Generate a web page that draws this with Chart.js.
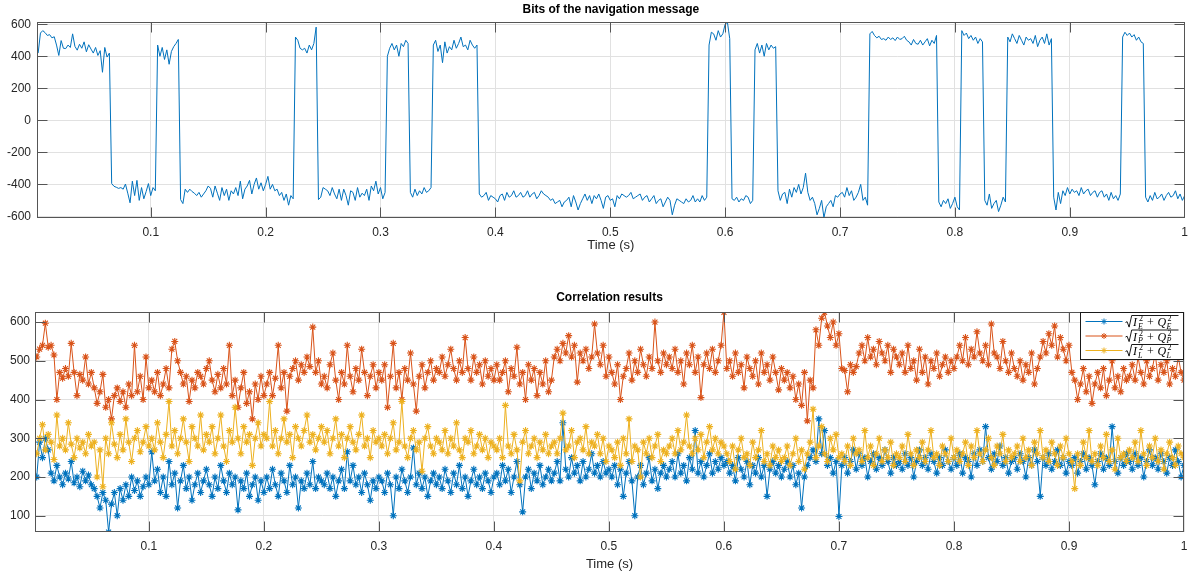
<!DOCTYPE html>
<html>
<head>
<meta charset="utf-8">
<title>Navigation bits and correlator outputs</title>
<script src="https://cdn.jsdelivr.net/npm/chart.js@4.4.1/dist/chart.umd.min.js"></script>
<style>
  html, body { margin: 0; padding: 0; background: #ffffff; }
  #wrap { position: relative; width: 1195px; height: 579px; overflow: hidden; }
  canvas { position: absolute; left: 0; }
  #navCanvas { top: 0; }
  #corrCanvas { top: 290px; }
</style>
</head>
<body>
<div id="wrap">
  <canvas id="navCanvas" width="1195" height="290"></canvas>
  <canvas id="corrCanvas" width="1195" height="289"></canvas>
</div>
<script>
// ---- titles and tick labels ----
const navTitle = 'Bits of the navigation message';
const corrTitle = 'Correlation results';
const xTitle = 'Time (s)';
const xTicks = [0.1, 0.2, 0.3, 0.4, 0.5, 0.6, 0.7, 0.8, 0.9, 1];
const xTickLabels = ['0.1', '0.2', '0.3', '0.4', '0.5', '0.6', '0.7', '0.8', '0.9', '1'];
const navYTicks = [-600, -400, -200, 0, 200, 400, 600];
const navYTickLabels = ['-600', '-400', '-200', '0', '200', '400', '600'];
const corrYTicks = [100, 200, 300, 400, 500, 600];
const corrYTickLabels = ['100', '200', '300', '400', '500', '600'];
const legendLetters = ['E', 'P', 'L'];

// ---- navigation message samples: first sample at 2 ms, one every 2 ms ----
const NAV_T0 = 0.002;
const NAV_DT = 0.002;
const navBits = [
  420, 545,
  560, 548, 530, 535, 515, 522, 470, 405, 498, 450,
  448, 470, 455, 540, 462, 438, 475, 450, 490, 428,
  472, 445, 420, 455, 405, 435, 300, 455, 395, 420,
  -395, -412, -418, -425, -420, -430, -398, -455, -515, -380,
  -470, -375, -500, -420, -490, -445, -395, -470, -420, -440,
  470, 400, 455, 380, 440, 350, 430, 460, 480, 505,
  -495, -520, -430, -450, -430, -445, -455, -470, -450, -480,
  -460, -440, -410, -425, -480, -410, -455, -500, -420, -470,
  -430, -500, -440, -460, -420, -470, -380, -490, -430, -410,
  -375, -460, -400, -360, -430, -390, -440, -400, -350, -430,
  -400, -440, -430, -470, -450, -500, -460, -530, -470, -490,
  520, 500, 450, 440, 450, 420, 470, 440, 480, 582,
  -495, -480, -420, -430, -440, -470, -420, -460, -490, -430,
  -500, -430, -470, -530, -440, -450, -500, -420, -480, -455,
  -470, -430, -500, -410, -440, -380, -460, -420, -490, -450,
  400, 450, 480, 440, 470, 400, 480, 460, 500, 480,
  -450, -480, -430, -470, -440, -460, -420, -450, -440, -420,
  470, 500, 430, 470, 360, 490, 420, 460, 440, 500,
  450, 480, 520, 460, 470, 440, 500, 470, 450, 470,
  -460, -480, -470, -450, -500, -470, -480, -490, -510, -470,
  -460, -500, -450, -480, -470, -440, -480, -470, -450, -480,
  -470, -440, -480, -460, -450, -490, -470, -440, -460, -470,
  -480, -500, -490, -520, -510, -500, -540, -510, -500, -480,
  -540, -470, -510, -560, -520, -490, -460, -500, -470, -520,
  -470, -490, -460, -500, -550, -480, -470, -500, -490, -540,
  -470, -490, -460, -470, -480, -470, -450, -490, -480, -470,
  -460, -500, -480, -470, -510, -490, -470, -520, -500, -490,
  -540, -510, -480, -500, -590, -530, -490, -500, -510, -520,
  -490, -510, -500, -470, -510, -490, -510, -470, -500, -480,
  470, 550, 540, 500, 560, 520, 540, 600, 612, 510,
  -490, -500, -480, -510, -490, -500, -470, -480, -520, -500,
  440, 480, 420, 470, 400, 480, 440, 470, 450, 460,
  -440, -500, -460, -450, -520, -430, -480, -420, -450, -400,
  -460, -420, -330, -450, -500, -480, -520, -590, -550, -500,
  -608, -540, -520, -500, -540, -470, -480, -460, -450, -480,
  -420, -470, -440, -500, -480, -450, -400, -500, -480, -530,
  540, 555, 530, 515, 525, 505, 510, 500, 520, 505,
  515, 498, 520, 505, 510, 525, 500, 490, 470, 505,
  480, 475, 500, 470, 490, 510, 465, 500, 480, 530,
  -510, -540, -500, -520, -490, -550, -520, -480, -540, -560,
  560, 530, 545, 510, 530, 500, 520, 480, 510, 490,
  -500, -530, -460, -550, -520, -500, -570, -530, -480, -510,
  520, 490, 540, 510, 480, 530, 500, 470, 520, 500,
  510, 480, 530, 460, 500, 520, 480, 540, 470, 510,
  -480, -560, -450, -520, -440, -470, -420, -460, -430, -450,
  -440, -470, -420, -460, -440, -430, -470, -450, -440, -480,
  -450, -440, -480, -460, -500, -450, -490, -470, -500, -460,
  520, 550, 530, 545, 520, 535, 500, 520, 490, 480,
  -480, -510, -470, -500, -450, -490, -480, -460, -500, -470,
  -450, -480, -470, -440, -490, -460, -500, -470
];

// ---- correlator magnitudes: first sample at 2.5 ms, one every 2.5 ms ----
const CORR_T0 = 0.0025;
const CORR_DT = 0.0025;
const corrEarly = [
  200, 290, 250, 300, 270, 210, 190, 230, 200, 180, 210, 195, 240, 185, 200, 175, 215, 190, 205, 180,
  170, 150, 120, 160, 140, 58, 130, 160, 100, 170, 140, 180, 150, 200, 165, 190, 150, 175, 200, 180,
  265, 190, 220, 160, 200, 150, 240, 180, 210, 120, 190, 230, 170, 200, 140, 180, 210, 160, 190, 220,
  180, 150, 200, 170, 230, 190, 160, 210, 180, 200, 115, 190, 170, 210, 150, 180, 200, 140, 190, 160,
  200, 170, 220, 180, 150, 210, 190, 160, 230, 180, 200, 120, 190, 170, 210, 180, 240, 170, 200, 190,
  180, 210, 170, 200, 150, 190, 220, 170, 265, 190, 230, 180, 200, 160, 210, 180, 140, 190, 170, 200,
  190, 160, 210, 180, 100, 200, 170, 220, 190, 160, 200, 275, 180, 210, 170, 200, 150, 190, 210, 180,
  200, 170, 220, 190, 160, 210, 180, 230, 170, 200, 150, 190, 220, 180, 200, 170, 210, 190, 160, 200,
  210, 180, 230, 190, 220, 160, 200, 240, 180, 110, 200, 220, 170, 210, 190, 230, 180, 200, 220, 190,
  210, 240, 190, 340, 220, 200, 250, 210, 230, 190, 240, 200, 220, 260, 210, 230, 200, 240, 210, 220,
  200, 230, 180, 220, 150, 210, 240, 190, 100, 200, 230, 180, 210, 250, 190, 220, 170, 210, 230, 200,
  220, 240, 200, 260, 210, 230, 190, 250, 220, 320, 210, 240, 200, 230, 260, 210, 240, 220, 250, 230,
  240, 210, 230, 190, 250, 220, 200, 240, 180, 230, 210, 250, 200, 230, 150, 220, 240, 210, 230, 200,
  220, 240, 200, 230, 180, 210, 120, 200, 230, 250, 270, 240, 350, 260, 320, 230, 250, 210, 240, 98,
  230, 250, 210, 240, 270, 220, 260, 230, 250, 200, 240, 260, 220, 250, 230, 270, 240, 210, 250, 230,
  240, 220, 260, 230, 250, 200, 240, 270, 230, 250, 220, 260, 240, 210, 250, 230, 270, 240, 220, 250,
  230, 260, 210, 250, 240, 200, 260, 230, 270, 240, 330, 250, 220, 260, 240, 280, 230, 250, 210, 240,
  250, 220, 260, 240, 200, 250, 230, 270, 240, 150, 250, 230, 260, 220, 240, 270, 230, 250, 210, 240,
  230, 250, 210, 240, 260, 220, 250, 230, 180, 240, 260, 220, 250, 230, 330, 240, 210, 250, 230, 260,
  240, 220, 260, 230, 250, 200, 240, 270, 230, 250, 220, 260, 240, 210, 250, 230, 270, 240, 200, 230
];
const corrPrompt = [
  510, 530, 540, 597, 535, 540, 515, 400, 470, 455, 480, 460, 545, 470, 410, 465, 450, 510, 440, 470,
  430, 390, 420, 465, 380, 400, 350, 410, 430, 395, 420, 380, 440, 410, 540, 420, 460, 400, 510, 430,
  450, 420, 470, 410, 440, 480, 430, 530, 550, 500, 470, 440, 460, 395, 450, 430, 470, 460, 440, 480,
  500, 450, 420, 465, 430, 480, 440, 540, 410, 450, 380, 430, 470, 390, 420, 350, 440, 400, 460, 410,
  440, 470, 410, 455, 540, 430, 470, 370, 460, 480, 500, 450, 490, 470, 510, 485, 587, 470, 500, 440,
  460, 430, 490, 520, 450, 400, 470, 440, 540, 460, 420, 480, 450, 530, 470, 410, 460, 490, 430, 470,
  450, 490, 380, 460, 545, 430, 470, 400, 480, 450, 520, 440, 370, 460, 490, 430, 470, 500, 450, 480,
  470, 510, 460, 490, 530, 480, 450, 500, 470, 560, 480, 450, 510, 470, 490, 440, 500, 460, 480, 450,
  490, 450, 470, 500, 420, 480, 460, 535, 440, 470, 400, 490, 450, 480, 410, 470, 440, 500, 420, 450,
  510, 530, 500, 545, 520, 565, 510, 540, 445, 520, 500, 530, 480, 510, 595, 520, 490, 540, 460, 510,
  470, 440, 490, 400, 460, 480, 520, 450, 500, 470, 530, 490, 460, 510, 480, 600, 500, 470, 520, 490,
  510, 480, 530, 470, 500, 440, 520, 490, 540, 470, 510, 405, 490, 520, 480, 530, 470, 500, 540, 625,
  480, 500, 460, 520, 470, 490, 430, 510, 480, 460, 500, 440, 520, 470, 490, 450, 510, 470, 425, 480,
  450, 470, 430, 460, 400, 440, 385, 470, 345, 450, 430, 580, 540, 610, 625, 590, 560, 600, 540, 570,
  480, 475, 420, 490, 470, 485, 520, 540, 500, 560, 510, 530, 490, 550, 520, 500, 540, 470, 530, 510,
  490, 520, 470, 540, 480, 500, 450, 530, 470, 510, 440, 500, 480, 520, 460, 490, 510, 470, 500, 480,
  510, 540, 500, 560, 490, 530, 510, 575, 520, 500, 540, 490, 595, 520, 510, 480, 550, 500, 470, 520,
  480, 460, 500, 450, 490, 470, 520, 440, 480, 510, 550, 520, 570, 540, 590, 510, 560, 530, 500, 540,
  470, 450, 400, 440, 480, 420, 460, 390, 440, 470, 430, 480, 410, 450, 500, 430, 460, 420, 480, 450,
  460, 490, 450, 510, 470, 440, 500, 460, 480, 520, 450, 490, 470, 500, 440, 480, 460, 510, 470, 450
];
const corrLate = [
  260, 300, 335, 270, 310, 290, 245, 360, 280, 300, 270, 340, 285, 250, 300, 275, 290, 260, 310, 280,
  290, 200, 270, 175, 300, 260, 340, 285, 250, 310, 270, 350, 290, 240, 300, 320, 265, 290, 330, 280,
  300, 270, 340, 290, 250, 310, 395, 280, 320, 260, 300, 350, 290, 240, 330, 300, 280, 360, 270, 310,
  290, 330, 260, 300, 360, 280, 240, 320, 290, 380, 300, 260, 330, 290, 310, 230, 300, 340, 280, 310,
  300, 395, 280, 320, 260, 300, 350, 290, 310, 250, 330, 300, 280, 320, 360, 290, 310, 270, 300, 330,
  290, 320, 260, 300, 350, 280, 310, 250, 300, 330, 290, 270, 310, 360, 280, 300, 250, 320, 290, 300,
  280, 310, 260, 300, 340, 270, 290, 395, 280, 250, 300, 320, 270, 290, 215, 300, 330, 280, 260, 300,
  290, 270, 320, 260, 300, 280, 340, 270, 250, 300, 290, 320, 260, 280, 310, 270, 300, 250, 290, 280,
  270, 300, 250, 385, 280, 260, 310, 270, 190, 290, 320, 260, 280, 300, 250, 290, 270, 310, 260, 280,
  290, 260, 300, 365, 270, 280, 320, 250, 290, 300, 270, 330, 260, 290, 280, 310, 260, 300, 240, 280,
  270, 250, 290, 230, 300, 260, 350, 240, 280, 270, 200, 290, 260, 300, 250, 280, 310, 240, 270, 260,
  280, 300, 260, 320, 270, 290, 360, 280, 260, 300, 270, 310, 250, 290, 330, 270, 300, 260, 290, 280,
  260, 240, 280, 220, 270, 300, 250, 260, 230, 290, 250, 270, 320, 240, 260, 230, 280, 250, 270, 240,
  250, 280, 230, 260, 300, 240, 270, 220, 260, 290, 375, 250, 280, 330, 260, 240, 300, 270, 310, 250,
  260, 240, 280, 230, 300, 260, 270, 240, 320, 250, 280, 230, 260, 300, 240, 270, 250, 290, 230, 260,
  250, 280, 240, 310, 260, 230, 270, 250, 290, 240, 270, 320, 250, 260, 230, 280, 260, 240, 300, 250,
  270, 240, 260, 290, 230, 280, 250, 320, 260, 240, 270, 300, 250, 230, 280, 260, 310, 240, 270, 250,
  260, 280, 240, 300, 250, 270, 230, 290, 260, 320, 250, 270, 240, 290, 260, 230, 280, 250, 300, 260,
  240, 170, 260, 230, 290, 250, 320, 240, 260, 230, 280, 250, 310, 240, 270, 220, 300, 250, 260, 240,
  270, 250, 290, 240, 320, 260, 230, 280, 250, 300, 240, 270, 220, 260, 290, 250, 230, 280, 260, 250
];

// ---- styling ----
const BLUE = '#0072BD', ORANGE = '#D95319', YELLOW = '#EDB120';
const SANS = '"Liberation Sans", Arial, Helvetica, sans-serif';
const SERIF = '"Liberation Serif", "Times New Roman", serif';
const TICK_COLOR = '#262626';
const GRID_COLOR = '#e1e1e1';
const BOX_COLOR = '#555555';

function toPoints(values, t0, dt) {
  return values.map((v, i) => ({ x: +(t0 + i * dt).toFixed(4), y: v }));
}

// Axes box with inward tick marks on all four sides, plus a centered title.
const boxedAxes = {
  id: 'boxedAxes',
  afterDatasetsDraw(chart, args, opts) {
    const { ctx, chartArea: a, scales } = chart;
    const L = Math.round(a.left) + 0.5, R = Math.round(a.right) - 0.5;
    const T = Math.round(a.top) + 0.5, B = Math.round(a.bottom) - 0.5;
    const len = 10;
    ctx.save();
    ctx.strokeStyle = BOX_COLOR;
    ctx.lineWidth = 1;
    ctx.beginPath();
    scales.x.ticks.forEach(t => {
      const px = Math.round(scales.x.getPixelForValue(t.value)) + 0.5;
      if (px > L + 1 && px < R - 1) {
        ctx.moveTo(px, B); ctx.lineTo(px, B - len);
        ctx.moveTo(px, T); ctx.lineTo(px, T + len);
      }
    });
    scales.y.ticks.forEach(t => {
      const py = Math.round(scales.y.getPixelForValue(t.value)) + 0.5;
      if (py > T + 1 && py < B - 1) {
        ctx.moveTo(L, py); ctx.lineTo(L + len, py);
        ctx.moveTo(R, py); ctx.lineTo(R - len, py);
      }
    });
    ctx.stroke();
    ctx.strokeRect(L, T, R - L, B - T);
    ctx.restore();
  },
  afterDraw(chart, args, opts) {
    const { ctx, chartArea: a } = chart;
    ctx.save();
    ctx.fillStyle = '#000000';
    ctx.font = 'bold 12px ' + SANS;
    ctx.textAlign = 'center';
    ctx.textBaseline = 'middle';
    ctx.fillText(opts.text, (a.left + a.right) / 2, opts.y);
    ctx.restore();
  }
};

// Legend with typeset magnitude expressions sqrt(I_x^2 + Q_x^2).
const mathLegend = {
  id: 'mathLegend',
  afterDraw(chart, args, opts) {
    const { ctx, chartArea: a } = chart;
    const right = Math.round(a.right) - 0.5;
    const left = right - 103;
    const top = Math.round(a.top) + 0.5;
    const bottom = top + 47;
    ctx.save();
    ctx.fillStyle = '#ffffff';
    ctx.fillRect(left, top, right - left, bottom - top);
    ctx.strokeStyle = '#1a1a1a';
    ctx.lineWidth = 1;
    ctx.strokeRect(left, top, right - left, bottom - top);
    chart.data.datasets.forEach((ds, i) => {
      const cy = top + 9 + i * 14.5;
      // sample line with marker
      ctx.strokeStyle = ds.borderColor;
      ctx.lineWidth = 1;
      ctx.beginPath();
      ctx.moveTo(left + 5, cy); ctx.lineTo(left + 42, cy);
      ctx.stroke();
      Chart.helpers.drawPoint(ctx, { pointStyle: 'star', radius: 3, borderWidth: 1 }, left + 23.5, cy);
      // expression
      const x0 = left + 45;
      ctx.strokeStyle = '#000000';
      ctx.fillStyle = '#000000';
      ctx.lineWidth = 0.9;
      ctx.beginPath();
      ctx.moveTo(x0, cy + 1);
      ctx.lineTo(x0 + 1.6, cy + 0.2);
      ctx.lineTo(x0 + 3.6, cy + 5.6);
      ctx.lineTo(x0 + 6.2, cy - 6);
      ctx.lineTo(x0 + 53, cy - 6);
      ctx.stroke();
      ctx.textBaseline = 'alphabetic';
      ctx.textAlign = 'left';
      ctx.font = 'italic 12px ' + SERIF;
      ctx.fillText('I', x0 + 7.5, cy + 4.5);
      ctx.fillText('Q', x0 + 32, cy + 4.5);
      ctx.font = '12px ' + SERIF;
      ctx.fillText('+', x0 + 21.5, cy + 4.5);
      ctx.font = '8px ' + SERIF;
      ctx.fillText('2', x0 + 13.5, cy - 0.3);
      ctx.fillText('2', x0 + 42, cy - 0.3);
      ctx.font = 'italic 8px ' + SERIF;
      ctx.fillText(opts.letters[i], x0 + 12.5, cy + 7);
      ctx.fillText(opts.letters[i], x0 + 41, cy + 7);
    });
    ctx.restore();
  }
};

function xScale(height, labelPad, titlePad) {
  return {
    type: 'linear',
    min: 0.001,
    max: 1,
    afterBuildTicks: s => { s.ticks = xTicks.map(v => ({ value: v })); },
    afterFit: s => { s.height = height; },
    grid: { color: GRID_COLOR, drawTicks: false, lineWidth: 1 },
    border: { display: false },
    ticks: {
      autoSkip: false, maxRotation: 0, padding: labelPad, color: TICK_COLOR,
      font: { family: SANS, size: 12 },
      callback: (v, i) => xTickLabels[i]
    },
    title: {
      display: true, text: xTitle, color: TICK_COLOR,
      font: { family: SANS, size: 13 },
      padding: { top: 0, bottom: titlePad }
    }
  };
}

function yScale(min, max, ticks, labels, width, labelPad) {
  return {
    type: 'linear',
    min: min,
    max: max,
    afterBuildTicks: s => { s.ticks = ticks.map(v => ({ value: v })); },
    afterFit: s => { s.width = width; },
    grid: { color: GRID_COLOR, drawTicks: false, lineWidth: 1 },
    border: { display: false },
    ticks: {
      autoSkip: false, padding: labelPad, color: TICK_COLOR,
      font: { family: SANS, size: 12 },
      callback: (v, i) => labels[i]
    }
  };
}

// Top axes: decoded navigation bits
new Chart(document.getElementById('navCanvas'), {
  type: 'line',
  data: {
    datasets: [{
      data: toPoints(navBits, NAV_T0, NAV_DT),
      borderColor: BLUE,
      borderWidth: 1,
      pointRadius: 0,
      tension: 0
    }]
  },
  options: {
    responsive: false,
    animation: false,
    events: [],
    parsing: false,
    layout: { padding: { top: 22, right: 9, left: 0, bottom: 0 } },
    scales: {
      x: xScale(72, 7, 37),
      y: yScale(-610, 614, navYTicks, navYTickLabels, 37, 6)
    },
    plugins: {
      legend: { display: false },
      tooltip: { enabled: false },
      boxedAxes: { text: navTitle, y: 10 }
    }
  },
  plugins: [boxedAxes]
});

// Bottom axes: early, prompt and late correlator magnitudes
function corrDataset(values, color, order) {
  return {
    data: toPoints(values, CORR_T0, CORR_DT),
    borderColor: color,
    backgroundColor: color,
    borderWidth: 1,
    pointStyle: 'star',
    pointRadius: 3.5,
    pointBorderWidth: 1.1,
    pointBorderColor: color,
    pointBackgroundColor: color,
    tension: 0,
    order: order
  };
}

new Chart(document.getElementById('corrCanvas'), {
  type: 'line',
  data: {
    datasets: [
      corrDataset(corrEarly, BLUE, 2),
      corrDataset(corrPrompt, ORANGE, 1),
      corrDataset(corrLate, YELLOW, 0)
    ]
  },
  options: {
    responsive: false,
    animation: false,
    events: [],
    parsing: false,
    layout: { padding: { top: 22, right: 11, left: 0, bottom: 0 } },
    scales: {
      x: xScale(47, 7, 7),
      y: yScale(58, 626, corrYTicks, corrYTickLabels, 35, 5)
    },
    plugins: {
      legend: { display: false },
      tooltip: { enabled: false },
      boxedAxes: { text: corrTitle, y: 7.3 },
      mathLegend: { letters: legendLetters }
    }
  },
  plugins: [boxedAxes, mathLegend]
});
</script>
</body>
</html>
